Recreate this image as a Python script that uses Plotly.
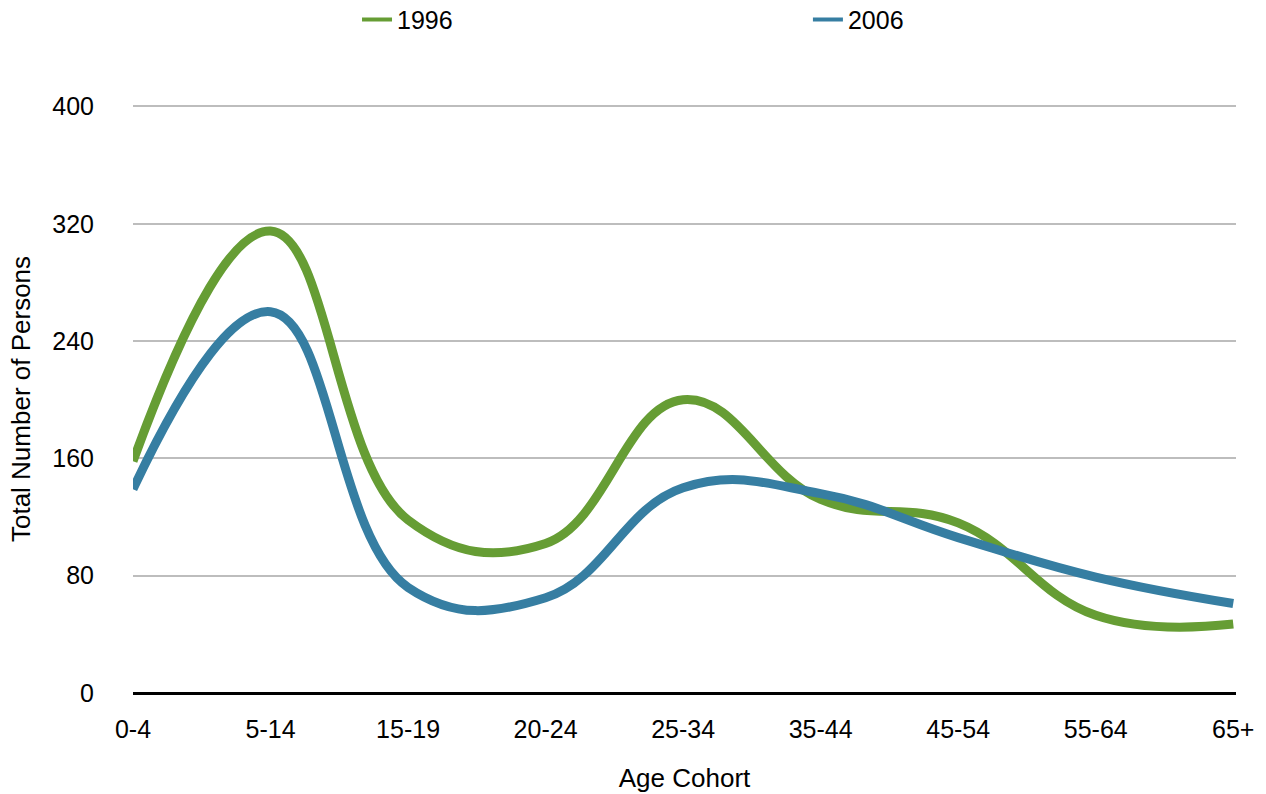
import plotly.graph_objects as go

categories = ["0-4", "5-14", "15-19", "20-24", "25-34", "35-44", "45-54", "55-64", "65+"]
values_1996 = [158, 315, 118, 102, 200, 132, 116, 53, 47]
values_2006 = [139, 260, 72, 65, 140, 136, 106, 79, 61]
y_ticks = [0, 80, 160, 240, 320, 400]
series_names = ["1996", "2006"]

GREEN = "#669d34"
BLUE = "#367ea2"
FONT = "Liberation Sans, Arial, Helvetica, sans-serif"

fig = go.Figure()
for name, vals, col in [(series_names[0], values_1996, GREEN), (series_names[1], values_2006, BLUE)]:
    fig.add_trace(go.Scatter(x=categories, y=vals, name=name, mode="lines", showlegend=False,
                             line=dict(color=col, width=9, shape="spline", smoothing=1.2)))

# legend entries (thin dash like the reference)
fig.add_trace(go.Scatter(x=[None], y=[None], name=series_names[0], mode="lines",
                         line=dict(color=GREEN, width=4), legend="legend"))
fig.add_trace(go.Scatter(x=[None], y=[None], name=series_names[1], mode="lines",
                         line=dict(color=BLUE, width=4), legend="legend2"))

leg_common = dict(orientation="h", yanchor="middle", y=1.145, xanchor="left",
                  font=dict(size=25), itemwidth=30, bgcolor="rgba(0,0,0,0)")

fig.update_layout(
    width=1266, height=794,
    margin=dict(l=133, r=30, t=105, b=101, autoexpand=False),
    paper_bgcolor="white", plot_bgcolor="white",
    font=dict(family=FONT, size=25, color="black"),
    showlegend=True,
    legend=dict(x=0.2031, **leg_common),
    legend2=dict(x=0.6119, **leg_common),
    xaxis=dict(
        type="category", range=[0, 8.02], showgrid=False, zeroline=False,
        showline=False, ticks="", ticklabelstandoff=19,
        title=dict(text="Age Cohort", standoff=26, font=dict(size=26)),
        tickfont=dict(size=25),
    ),
    yaxis=dict(
        range=[0, 401], tickvals=y_ticks, showgrid=True, gridcolor="#bdbdbd", gridwidth=2,
        zeroline=True, zerolinecolor="black", zerolinewidth=3,
        showline=False, ticks="", ticklabelstandoff=38,
        title=dict(text="Total Number of Persons", standoff=14, font=dict(size=26)),
        tickfont=dict(size=25),
    ),
)

fig.write_html("out.html", config={"displayModeBar": False},
               post_script="document.body.style.margin='0';document.body.style.overflow='hidden';")
